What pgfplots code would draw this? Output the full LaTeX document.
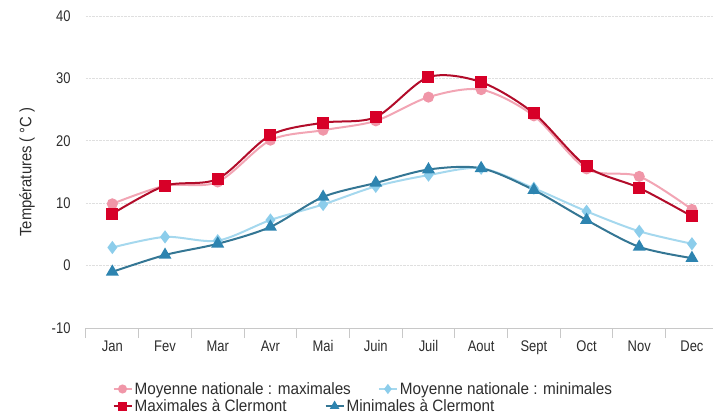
\documentclass[border=0pt]{standalone}
\usepackage{pgfplots}
\pgfplotsset{compat=1.18}
\usepackage{fontspec}
\setmainfont{Liberation Sans}[FakeStretch=0.93]
\newfontfamily\tickfont{Liberation Sans}[FakeStretch=0.84]
\newfontfamily\labfont{Liberation Sans}[FakeStretch=0.9]
\definecolor{pinkline}{RGB}{242,165,180}
\definecolor{pinkmark}{RGB}{240,150,168}
\definecolor{blueline}{RGB}{165,216,238}
\definecolor{bluemark}{RGB}{140,205,235}
\definecolor{redline}{RGB}{178,12,42}
\definecolor{redmark}{RGB}{215,0,40}
\definecolor{tealline}{RGB}{52,118,148}
\definecolor{tealmark}{RGB}{45,132,176}
\definecolor{axgray}{RGB}{200,200,200}
\definecolor{txtgray}{RGB}{45,45,45}
\begin{document}
\begin{tikzpicture}
\useasboundingbox (-86bp,-88bp) rectangle (627bp,328bp);
\pgfplotsset{
  mylegimg/.style={legend image code/.code={\draw[##1, mark size=3.5bp, mark repeat=2, mark phase=2] plot coordinates {(0bp,0bp) (9bp,0bp) (18bp,0bp)};}},
}
\begin{axis}[
  scale only axis, width=627bp, height=312bp,
  xmin=-0.5, xmax=11.4, ymin=-10, ymax=40,
  axis x line*=bottom, axis y line*=left,
  x axis line style={draw=axgray, line width=1bp},
  y axis line style={draw=none},
  xtick={0,...,11},
  xticklabels={Jan,Fev,Mar,Avr,Mai,Juin,Juil,Aout,Sept,Oct,Nov,Dec},
  minor xtick={-0.5,0.5,...,10.5},
  major tick length=0pt, minor tick length=10bp, tick align=outside,
  minor x tick style={draw=axgray, line width=1bp},
  xticklabel style={font=\tickfont\fontsize{15.5}{17}\selectfont, text=txtgray, yshift=-9bp},
  ytick={-10,0,10,20,30,40},
  yticklabels={-10,0,10,20,30,40},
  yticklabel style={font=\tickfont\fontsize{15.5}{17}\selectfont, text=txtgray, xshift=-12bp},
  ytick style={draw=none},
  ymajorgrids, grid style={densely dotted, draw=gray!25, line width=1bp},
  ylabel={Températures ( °C )},
  ylabel style={font=\labfont\fontsize{16.5}{18}\selectfont, text=txtgray, at={(axis description cs:-0.094,0.5)}, anchor=center},
  mylegimg,
  legend style={draw=none, fill=none, inner sep=0pt, font=\fontsize{16.5}{18}\selectfont, text=txtgray,
    at={(axis description cs:0.042,-0.1955)}, anchor=west,
    /tikz/every even column/.append style={column sep=25bp}},
  legend columns=2,
]
\addplot[pinkline, line width=2bp, smooth, tension=0.5, mark=*, mark size=4.5bp, mark options={fill=pinkmark, draw=pinkmark}] coordinates {
(0,9.9) (1,12.8) (2,13.4) (3,20.1) (4,21.7) (5,23.2) (6,27.0) (7,28.2) (8,24.0) (9,15.5) (10,14.3) (11,9.0)};
\addlegendentry{Moyenne nationale : maximales}
\addplot[blueline, line width=2bp, smooth, tension=0.5, mark=diamond*, mark size=5bp, mark options={fill=bluemark, draw=bluemark}] coordinates {
(0,2.9) (1,4.6) (2,4.0) (3,7.3) (4,9.8) (5,12.7) (6,14.5) (7,15.6) (8,12.4) (9,8.7) (10,5.5) (11,3.5)};
\addlegendentry{Moyenne nationale : minimales}
\addplot[redline, line width=2bp, smooth, tension=0.5, mark=square*, mark size=5bp, mark options={fill=redmark, draw=redmark}, forget plot] coordinates {
(0,8.3) (1,12.8) (2,13.9) (3,20.9) (4,22.9) (5,23.8) (6,30.2) (7,29.4) (8,24.4) (9,15.9) (10,12.45) (11,7.9)};
\addplot[tealline, line width=2bp, smooth, tension=0.5, mark=triangle*, mark size=5.5bp, mark options={fill=tealmark, draw=tealmark}, forget plot] coordinates {
(0,-1.0) (1,1.7) (2,3.5) (3,6.2) (4,11.0) (5,13.25) (6,15.4) (7,15.6) (8,12.1) (9,7.3) (10,3.0) (11,1.2)};
\end{axis}
\begin{axis}[
  scale only axis, width=627bp, height=312bp,
  xmin=0, xmax=1, ymin=0, ymax=1, hide axis,
  mylegimg,
  legend style={draw=none, fill=none, inner sep=0pt, font=\fontsize{16.5}{18}\selectfont, text=txtgray,
    at={(axis description cs:0.042,-0.25)}, anchor=west,
    /tikz/every even column/.append style={column sep=36bp}},
  legend columns=2,
]
\addlegendimage{redline, line width=2bp, mark=square*, mark options={fill=redmark, draw=redmark}}
\addlegendentry{Maximales à Clermont}
\addlegendimage{tealline, line width=2bp, mark=triangle*, mark options={fill=tealmark, draw=tealmark}}
\addlegendentry{Minimales à Clermont}
\end{axis}
\end{tikzpicture}
\end{document}
